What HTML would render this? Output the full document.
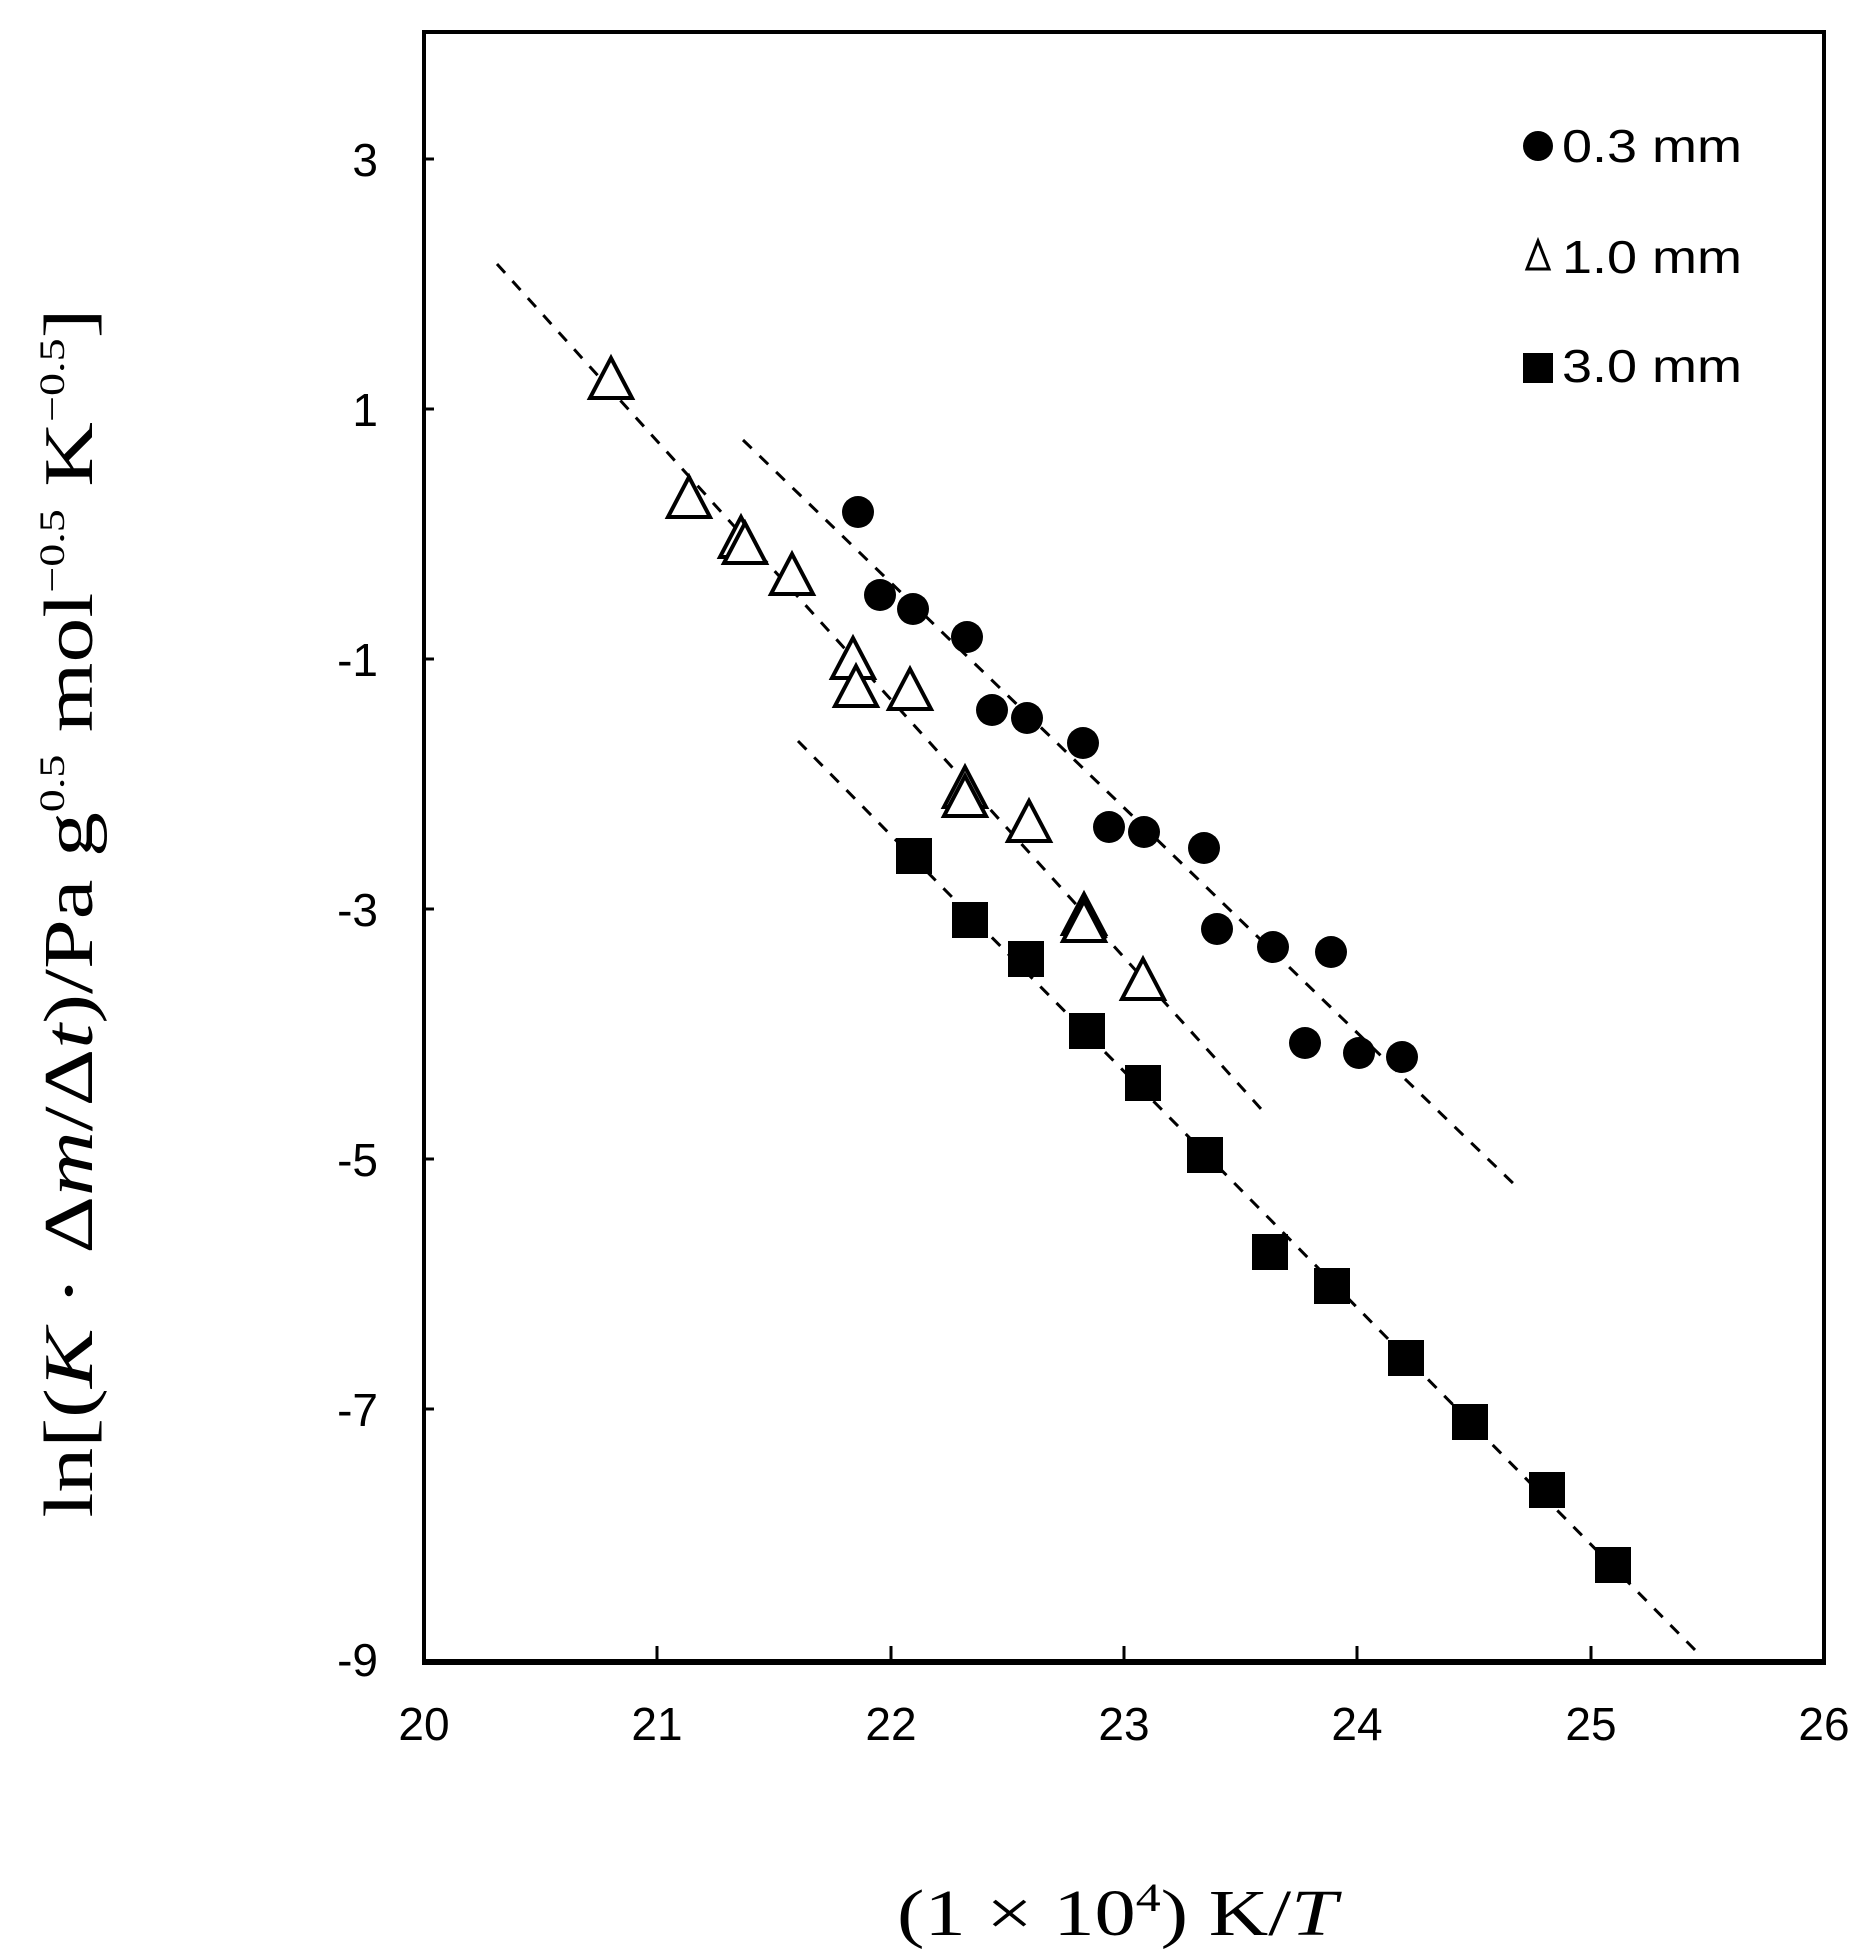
<!DOCTYPE html>
<html><head><meta charset="utf-8"><style>html,body{margin:0;padding:0;background:#fff}svg{display:block}</style></head>
<body>
<svg width="1871" height="1956" viewBox="0 0 1871 1956" xmlns="http://www.w3.org/2000/svg">
<rect width="1871" height="1956" fill="#fff"/>
<rect x="424" y="32" width="1400" height="1630" fill="none" stroke="#000" stroke-width="4"/>
<line x1="422" y1="1662" x2="1826" y2="1662" stroke="#000" stroke-width="6"/>
<g stroke="#000" stroke-width="3">
<line x1="657" y1="1662" x2="657" y2="1646"/>
<line x1="891" y1="1662" x2="891" y2="1646"/>
<line x1="1124" y1="1662" x2="1124" y2="1646"/>
<line x1="1357" y1="1662" x2="1357" y2="1646"/>
<line x1="1591" y1="1662" x2="1591" y2="1646"/>
<line x1="424" y1="159" x2="434" y2="159"/>
<line x1="424" y1="409" x2="434" y2="409"/>
<line x1="424" y1="659" x2="434" y2="659"/>
<line x1="424" y1="909" x2="434" y2="909"/>
<line x1="424" y1="1159" x2="434" y2="1159"/>
<line x1="424" y1="1409" x2="434" y2="1409"/>
</g>
<g font-family="Liberation Sans, Arial, sans-serif" font-size="46" fill="#000">
<g text-anchor="end">
<text x="378" y="176">3</text>
<text x="378" y="426">1</text>
<text x="378" y="676">-1</text>
<text x="378" y="926">-3</text>
<text x="378" y="1176">-5</text>
<text x="378" y="1426">-7</text>
<text x="378" y="1676">-9</text>
</g>
<g text-anchor="middle">
<text x="424" y="1740">20</text>
<text x="657" y="1740">21</text>
<text x="891" y="1740">22</text>
<text x="1124" y="1740">23</text>
<text x="1357" y="1740">24</text>
<text x="1591" y="1740">25</text>
<text x="1824" y="1740">26</text>
</g>
<text x="1562" y="162" font-size="46" textLength="180" lengthAdjust="spacingAndGlyphs">0.3 mm</text>
<text x="1562" y="273" font-size="46" textLength="180" lengthAdjust="spacingAndGlyphs">1.0 mm</text>
<text x="1562" y="382" font-size="46" textLength="180" lengthAdjust="spacingAndGlyphs">3.0 mm</text>
</g>
<circle cx="1538" cy="146" r="15" fill="#000"/>
<polygon points="1527,269 1549,269 1538,241" fill="#fff" stroke="#000" stroke-width="3"/>
<rect x="1523" y="353" width="30" height="30" fill="#000"/>
<g stroke="#000" stroke-width="3" stroke-dasharray="12,11" fill="none">
<line x1="497" y1="264" x2="1262" y2="1110"/>
<line x1="743" y1="440" x2="1518" y2="1188"/>
<line x1="798" y1="741" x2="1700" y2="1655"/>
</g>
<g fill="#000">
<circle cx="858" cy="512" r="16"/>
<circle cx="880" cy="595" r="16"/>
<circle cx="913" cy="609" r="16"/>
<circle cx="967" cy="637" r="16"/>
<circle cx="992" cy="710" r="16"/>
<circle cx="1027" cy="718" r="16"/>
<circle cx="1083" cy="743" r="16"/>
<circle cx="1109" cy="827" r="16"/>
<circle cx="1144" cy="832" r="16"/>
<circle cx="1204" cy="848" r="16"/>
<circle cx="1217" cy="929" r="16"/>
<circle cx="1273" cy="947" r="16"/>
<circle cx="1331" cy="952" r="16"/>
<circle cx="1305" cy="1043" r="16"/>
<circle cx="1359" cy="1053" r="16"/>
<circle cx="1402" cy="1057" r="16"/>
</g>
<g fill="#000">
<rect x="896" y="838" width="36" height="36"/>
<rect x="952" y="902" width="36" height="36"/>
<rect x="1008" y="941" width="36" height="36"/>
<rect x="1069" y="1013" width="36" height="36"/>
<rect x="1125" y="1065" width="36" height="36"/>
<rect x="1187" y="1137" width="36" height="36"/>
<rect x="1252" y="1234" width="36" height="36"/>
<rect x="1314" y="1268" width="36" height="36"/>
<rect x="1388" y="1340" width="36" height="36"/>
<rect x="1452" y="1404" width="36" height="36"/>
<rect x="1529" y="1472" width="36" height="36"/>
<rect x="1595" y="1547" width="36" height="36"/>
</g>
<g fill="#fff" stroke="#000" stroke-width="4" stroke-linejoin="miter">
<polygon points="590,398 632,398 611,358"/>
<polygon points="668,517 710,517 689,477"/>
<polygon points="720,557 762,557 741,517"/>
<polygon points="724,563 766,563 745,523"/>
<polygon points="771,594 813,594 792,554"/>
<polygon points="832,678 874,678 853,638"/>
<polygon points="835,706 877,706 856,666"/>
<polygon points="889,709 931,709 910,669"/>
<polygon points="944,807 986,807 965,767"/>
<polygon points="944,816 986,816 965,776"/>
<polygon points="1008,841 1050,841 1029,801"/>
<polygon points="1063,934 1105,934 1084,894"/>
<polygon points="1063,941 1105,941 1084,901"/>
<polygon points="1122,999 1164,999 1143,959"/>
</g>
<text x="1117" y="1935" text-anchor="middle" font-family="Liberation Serif, Times New Roman, serif" font-size="66" textLength="440" lengthAdjust="spacingAndGlyphs">(1 × 10<tspan font-size="40" dy="-24">4</tspan><tspan dy="24">) K/</tspan><tspan font-style="italic">T</tspan></text>
<text transform="translate(92,913) rotate(-90)" text-anchor="middle" font-family="Liberation Serif, Times New Roman, serif" font-size="70" textLength="1209" lengthAdjust="spacingAndGlyphs">ln[(<tspan font-style="italic">K</tspan> · Δ<tspan font-style="italic">m</tspan>/Δ<tspan font-style="italic">t</tspan>)/Pa g<tspan font-size="36" dy="-28">0.5</tspan><tspan dy="28"> mol</tspan><tspan font-size="36" dy="-28">−0.5</tspan><tspan dy="28"> K</tspan><tspan font-size="36" dy="-28">−0.5</tspan><tspan dy="28">]</tspan></text>
</svg>
</body></html>
